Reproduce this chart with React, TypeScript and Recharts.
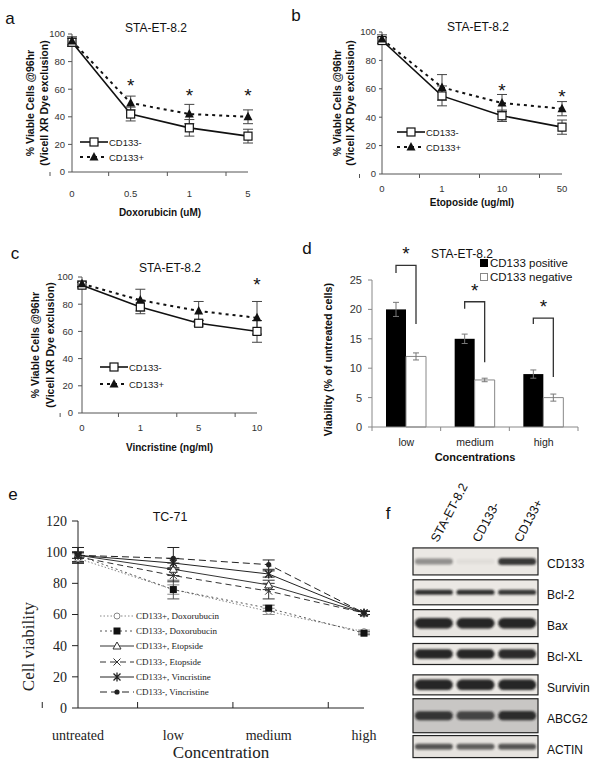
import React from 'react';
import { LineChart, Line, BarChart, Bar, ScatterChart, Scatter, XAxis, YAxis, ErrorBar, Legend } from 'recharts';

const SANS = '"Liberation Sans", Arial, Helvetica, sans-serif';
const SERIF = '"Liberation Serif", "Times New Roman", serif';
const AX = '#555';

// a-c: STA-ET-8.2, % viable cells @96hr
const staSeries = ['CD133-', 'CD133+'];

const doxDoses = ['0', '0.5', '1', '5'];
const doxNeg = [94, 42, 32, 26];
const doxNegErr = [3, 5, 6, 5];
const doxPos = [95, 50, 42, 40];
const doxPosErr = [3, 5, 7, 5];
const doxStars = [null, 65, 58, 58];

const etoDoses = ['0', '1', '10', '50'];
const etoNeg = [94, 55, 41, 33];
const etoNegErr = [2, 7, 4, 5];
const etoPos = [95, 61, 50, 46];
const etoPosErr = [3, 9, 6, 5];
const etoStars = [null, null, 61, 57];

const vinDoses = ['0', '1', '5', '10'];
const vinNeg = [94, 78, 66, 60];
const vinNegErr = [2, 5, 2, 8];
const vinPos = [95, 83, 75, 70];
const vinPosErr = [2, 8, 7, 12];
const vinStars = [null, null, null, 97];

// d: viability (% of untreated cells)
const dLevels = ['low', 'medium', 'high'];
const dSeries = ['CD133 positive', 'CD133 negative'];
const dPos = [20, 15, 9];
const dPosErr = [1.2, 0.8, 0.7];
const dNeg = [12, 8, 5];
const dNegErr = [0.6, 0.3, 0.6];
const dBracketTop = [27.5, 21.3, 18.5];
const dBracketLeft = [26.2, 20.1, 17.5];
const dBracketRight = [17.5, 11, 8.5];

// e: TC-71
const eConc = ['untreated', 'low', 'medium', 'high'];
const eNames = ['CD133+, Doxorubucin', 'CD133-, Doxorubucin', 'CD133+, Etopside', 'CD133-, Etopside', 'CD133+, Vincristine', 'CD133-, Vincristine'];
const eDoxPos = [96, 76, 62, 49];
const eDoxPosErr = [3, 3, 2, 1];
const eDoxNeg = [98, 76, 64, 48];
const eDoxNegErr = [2, 6, 2, 1];
const eEtoPos = [98, 89, 79, 61];
const eEtoPosErr = [2, 4, 3, 1];
const eEtoNeg = [97, 85, 75, 61];
const eEtoNegErr = [3, 4, 5, 1];
const eVinPos = [98, 93, 86, 61];
const eVinPosErr = [5, 3, 2, 1];
const eVinNeg = [98, 96, 92, 61];
const eVinNegErr = [5, 7, 3, 1];
const eVals = [eDoxPos, eDoxNeg, eEtoPos, eEtoNeg, eVinPos, eVinNeg];
const eErrs = [eDoxPosErr, eDoxNegErr, eEtoPosErr, eEtoNegErr, eVinPosErr, eVinNegErr];
const eStyle = [
  { color: '#888', dash: '1.5 2', mark: 'circle' },
  { color: '#555', dash: '2 3', mark: 'square' },
  { color: '#333', dash: undefined, mark: 'triangle' },
  { color: '#333', dash: '6 4', mark: 'cross' },
  { color: '#222', dash: undefined, mark: 'star' },
  { color: '#222', dash: '7 4', mark: 'dot' },
];

// f: western blot
const blotLanes = ['STA-ET-8.2', 'CD133-', 'CD133+'];
const blotProteins = ['CD133', 'Bcl-2', 'Bax', 'Bcl-XL', 'Survivin', 'ABCG2', 'ACTIN'];
const cd133Band = [0.45, 0.05, 0.9];
const bcl2Band = [0.95, 0.95, 0.92];
const baxBand = [1, 1, 1];
const bclxlBand = [1, 1, 0.97];
const survivinBand = [1, 1, 1];
const abcg2Band = [0.9, 0.8, 0.95];
const actinBand = [0.75, 0.7, 0.75];
const blotIntensity = [cd133Band, bcl2Band, baxBand, bclxlBand, survivinBand, abcg2Band, actinBand];

const frameH = [27, 25, 27, 21, 20, 34, 22];
const bandH = [7, 5, 10, 9, 10, 9, 6];
const frameFill = ['#ebe8e4', '#ebe8e4', '#e9e6e2', '#ebe8e4', '#ebe8e4', '#c8c6c4', '#e6e3df'];

const Mark = ({ kind, cx, cy, color }: any) => {
  if (cx == null || cy == null || isNaN(cy)) return null;
  switch (kind) {
    case 'openSquare':
      return <rect x={cx - 4} y={cy - 4} width={8} height={8} fill="#fff" stroke={color} strokeWidth={1.2} />;
    case 'filledTri':
      return <path d={`M${cx} ${cy - 5}L${cx + 4.5} ${cy + 3.5}L${cx - 4.5} ${cy + 3.5}Z`} fill={color} />;
    case 'circle':
      return <circle cx={cx} cy={cy} r={3} fill="#fff" stroke={color} />;
    case 'square':
      return <rect x={cx - 3.5} y={cy - 3.5} width={7} height={7} fill="#111" />;
    case 'triangle':
      return <path d={`M${cx} ${cy - 4}L${cx + 4} ${cy + 3}L${cx - 4} ${cy + 3}Z`} fill="#fff" stroke={color} />;
    case 'cross':
      return <path d={`M${cx - 3.5} ${cy - 3.5}L${cx + 3.5} ${cy + 3.5}M${cx - 3.5} ${cy + 3.5}L${cx + 3.5} ${cy - 3.5}`} stroke={color} />;
    case 'star':
      return <path d={`M${cx - 3.5} ${cy - 3.5}L${cx + 3.5} ${cy + 3.5}M${cx - 3.5} ${cy + 3.5}L${cx + 3.5} ${cy - 3.5}M${cx} ${cy - 4.5}L${cx} ${cy + 4.5}`} stroke={color} strokeWidth={1.3} />;
    case 'dot':
      return <circle cx={cx} cy={cy} r={2.6} fill={color} />;
    default:
      return null;
  }
};

const StarDot = ({ cx, cy }: any) =>
  cy == null || isNaN(cy) ? null : (
    <text x={cx} y={cy + 10} textAnchor="middle" fontSize={19} fontFamily={SANS} fill="#111">*</text>
  );

// category ticks: label at band centre, tick marks on band edges
const bandTick = (o: any) => (p: any) => {
  const { x, y, payload, index } = p;
  const h = o.band / 2;
  const y2 = o.up ? y - o.len : y + o.len;
  return (
    <g>
      <line x1={x - h} x2={x - h} y1={y} y2={y2} stroke={o.axis} />
      {index === o.n - 1 && <line x1={x + h} x2={x + h} y1={y} y2={y2} stroke={o.axis} />}
      <text x={x} y={y + o.dy} textAnchor="middle" dominantBaseline="central" fontFamily={o.font} fontSize={o.size} fill={o.color}>
        {payload.value}
      </text>
    </g>
  );
};

const xTitle = (t: string, dy: number, o: any) => ({ viewBox }: any) => (
  <text x={viewBox.x + viewBox.width / 2} y={viewBox.y + dy} textAnchor="middle" dominantBaseline="central"
    fontFamily={o.font} fontSize={o.size} fontWeight={o.weight} fill={o.color || '#111'}>
    {t}
  </text>
);

const yTitle = (lines: string[], xs: number[], o: any) => ({ viewBox }: any) => {
  const cy = viewBox.y + viewBox.height / 2 + (o.shift || 0);
  return (
    <g>
      {lines.map((t, i) => {
        const x = viewBox.x + xs[i];
        return (
          <text key={i} x={x} y={cy} transform={`rotate(-90 ${x} ${cy})`} textAnchor="middle" dominantBaseline="central"
            fontFamily={o.font} fontSize={o.size} fontWeight={o.weight} fill={o.color || '#111'}>
            {t}
          </text>
        );
      })}
    </g>
  );
};

const legendBox = (left: number, top: number) => ({ left, top, width: 'auto', height: 'auto', right: 'auto', bottom: 'auto' });

const StaLegend = ({ rowH }: any) => (
  <div style={{ fontFamily: SANS, fontSize: 9.5, color: '#222' }}>
    {staSeries.map((s, i) => (
      <div key={s} style={{ display: 'flex', alignItems: 'center', height: rowH }}>
        <svg width={28} height={12}>
          <line x1={0} x2={28} y1={6} y2={6} stroke="#111" strokeWidth={i === 0 ? 1.6 : 2} strokeDasharray={i === 0 ? undefined : '3 4'} />
          <Mark kind={i === 0 ? 'openSquare' : 'filledTri'} cx={14} cy={6} color="#111" />
        </svg>
        <span style={{ marginLeft: 1 }}>{s}</span>
      </div>
    ))}
  </div>
);

function StaPanel(c: any) {
  const data = c.doses.map((d: string, i: number) => ({
    dose: d, neg: c.neg[i], negErr: c.negErr[i], pos: c.pos[i], posErr: c.posErr[i], star: c.stars[i],
  }));
  const [x0, x1, y0, y1] = c.plot;
  return (
    <div style={{ position: 'absolute', left: c.left, top: c.top }}>
      <LineChart width={c.width} height={c.height} data={data}
        margin={{ top: y0 - c.top, right: c.left + c.width - x1, bottom: 0, left: 0 }}>
        <XAxis dataKey="dose" height={c.top + c.height - y1} interval={0} tickLine={false} tickSize={0} tickMargin={0}
          axisLine={{ stroke: AX }}
          tick={bandTick({ n: 4, band: (x1 - x0) / 4, dy: c.tickDy, len: 4, font: SANS, size: 9.5, color: '#333', axis: AX })}
          label={xTitle(c.xTitle, c.xTitleDy, { font: SANS, size: 10, weight: 'bold' })} />
        <YAxis width={x0 - c.left} domain={[0, 100]} ticks={[0, 20, 40, 60, 80, 100]} tickSize={c.yTick[0]} tickMargin={c.yTick[1]}
          axisLine={{ stroke: AX }} tickLine={{ stroke: AX }} tick={{ fontSize: 9.5, fill: '#333', fontFamily: SANS }}
          label={yTitle(['% Viable Cells @96hr', '(Vicell XR Dye exclusion)'], c.yTitleXs, { font: SANS, size: 10.5, weight: 'bold' })} />
        <Line dataKey="neg" name={staSeries[0]} stroke="#111" strokeWidth={1.6} dot={<Mark kind="openSquare" color="#111" />} isAnimationActive={false}>
          <ErrorBar dataKey="negErr" width={5} stroke="#444" strokeWidth={1} />
        </Line>
        <Line dataKey="pos" name={staSeries[1]} stroke="#111" strokeWidth={2} strokeDasharray="3 4" dot={<Mark kind="filledTri" color="#111" />} isAnimationActive={false}>
          <ErrorBar dataKey="posErr" width={5} stroke="#444" strokeWidth={1} />
        </Line>
        <Line dataKey="star" stroke="none" dot={<StarDot />} legendType="none" isAnimationActive={false} />
        <Legend layout="vertical" verticalAlign="middle" align="center" wrapperStyle={legendBox(c.legend[0], c.legend[1])}
          content={() => <StaLegend rowH={c.legend[2]} />} />
      </LineChart>
    </div>
  );
}

const BracketBar = (p: any) => {
  const { x, y, width, height, payload } = p;
  const base = y + height;
  const k = height / payload.pos;
  const at = (v: number) => base - v * k;
  const xl = x + width / 2;
  const xr = x + width * 1.5;
  const top = at(payload.bTop);
  return (
    <g>
      <rect x={x} y={y} width={width} height={height} fill="#000" />
      <polyline points={`${xl},${at(payload.bLeft)} ${xl},${top} ${xr},${top} ${xr},${at(payload.bRight)}`}
        fill="none" stroke="#333" strokeWidth={1.3} />
      <text x={(xl + xr) / 2} y={top - 5} textAnchor="middle" fontSize={19} fontFamily={SANS} fill="#111">*</text>
    </g>
  );
};

const DLegend = () => (
  <div style={{ fontFamily: SANS, fontSize: 11.5, color: '#111' }}>
    {dSeries.map((s, i) => (
      <div key={s} style={{ display: 'flex', alignItems: 'center', height: 14 }}>
        <span style={{ display: 'inline-block', width: 6, height: 6, background: i === 0 ? '#000' : '#fff',
          border: i === 0 ? '1px solid #000' : '1px solid #888', marginRight: 2 }} />
        <span>{s}</span>
      </div>
    ))}
  </div>
);

function PanelD() {
  const data = dLevels.map((l, i) => ({
    level: l, pos: dPos[i], posErr: dPosErr[i], neg: dNeg[i], negErr: dNegErr[i],
    bTop: dBracketTop[i], bLeft: dBracketLeft[i], bRight: dBracketRight[i],
  }));
  const AXD = '#888';
  return (
    <div style={{ position: 'absolute', left: 300, top: 240 }}>
      <BarChart width={290} height={225} data={data} margin={{ top: 40, right: 12, bottom: 0, left: 0 }} barSize={20} barGap={0}>
        <XAxis dataKey="level" height={38} interval={0} tickLine={false} tickSize={0} tickMargin={0} axisLine={{ stroke: AXD }}
          tick={bandTick({ n: 3, band: 206 / 3, dy: 15, len: 4, font: SANS, size: 10.5, color: '#222', axis: AXD })}
          label={xTitle('Concentrations', 30, { font: SANS, size: 11, weight: 'bold' })} />
        <YAxis width={72} domain={[0, 25]} ticks={[0, 5, 10, 15, 20, 25]} tickSize={4} tickMargin={6}
          axisLine={{ stroke: AXD }} tickLine={{ stroke: AXD }} tick={{ fontSize: 11, fill: '#333', fontFamily: SANS }}
          label={yTitle(['Viability (% of untreated cells)'], [28], { font: SANS, size: 10.8, weight: 'bold', shift: 6 })} />
        <Bar dataKey="pos" name={dSeries[0]} fill="#000" shape={<BracketBar />} isAnimationActive={false}>
          <ErrorBar dataKey="posErr" width={3} stroke="#777" strokeWidth={1} />
        </Bar>
        <Bar dataKey="neg" name={dSeries[1]} fill="#fff" stroke="#888" strokeWidth={1} isAnimationActive={false}>
          <ErrorBar dataKey="negErr" width={3} stroke="#777" strokeWidth={1} />
        </Bar>
        <Legend layout="vertical" verticalAlign="middle" align="center" wrapperStyle={legendBox(180, 16)} content={() => <DLegend />} />
      </BarChart>
    </div>
  );
}

const ELegend = () => (
  <div style={{ fontFamily: SERIF, fontSize: 9, color: '#222' }}>
    {eNames.map((n, k) => (
      <div key={n} style={{ display: 'flex', alignItems: 'center', height: 15.2 }}>
        <svg width={34} height={10}>
          <line x1={0} x2={34} y1={5} y2={5} stroke={eStyle[k].color} strokeDasharray={eStyle[k].dash} />
          <Mark kind={eStyle[k].mark} cx={17} cy={5} color={eStyle[k].color} />
        </svg>
        <span style={{ marginLeft: 2 }}>{n}</span>
      </div>
    ))}
  </div>
);

function PanelE() {
  const data = eConc.map((c, i) => {
    const row: any = { c };
    eVals.forEach((v, k) => {
      row['s' + k] = v[i];
      row['e' + k] = eErrs[k][i];
    });
    return row;
  });
  return (
    <div style={{ position: 'absolute', left: 0, top: 480 }}>
      <LineChart width={380} height={280} data={data} margin={{ top: 41, right: 16, bottom: 0, left: 0 }}>
        <XAxis dataKey="c" height={52} interval={0} tickLine={false} tickSize={0} tickMargin={0} axisLine={{ stroke: '#222' }}
          tick={bandTick({ n: 4, band: 71.5, dy: 27.5, len: 6, up: true, font: SERIF, size: 14, color: '#222', axis: '#222' })}
          label={xTitle('Concentration', 44, { font: SERIF, size: 17, color: '#222' })} />
        <YAxis width={78} domain={[0, 120]} ticks={[0, 20, 40, 60, 80, 100, 120]} tickSize={6} tickMargin={5}
          axisLine={{ stroke: '#222' }} tickLine={{ stroke: '#222' }} tick={{ fontSize: 14, fill: '#222', fontFamily: SERIF }}
          label={yTitle(['Cell viability'], [28], { font: SERIF, size: 17, shift: 32, color: '#222' })} />
        {eStyle.map((s, k) => (
          <Line key={k} dataKey={'s' + k} name={eNames[k]} stroke={s.color} strokeWidth={1} strokeDasharray={s.dash}
            dot={<Mark kind={s.mark} color={s.color} />} isAnimationActive={false}>
            <ErrorBar dataKey={'e' + k} width={6} stroke={s.color} strokeWidth={1} />
          </Line>
        ))}
        <Legend layout="vertical" verticalAlign="middle" align="center" wrapperStyle={legendBox(100, 128.4)} content={() => <ELegend />} />
      </LineChart>
    </div>
  );
}

const BlotFrame = ({ cx, cy, payload }: any) => {
  const h = frameH[payload.row];
  return <rect x={cx - 62.5} y={cy - h / 2} width={125} height={h} fill={frameFill[payload.row]} stroke="#222" strokeWidth={1.2} />;
};

const BlotBand = ({ cx, cy, payload }: any) => {
  const h = bandH[payload.row] * (0.7 + 0.35 * payload.v);
  const id = `blur-${payload.row}-${payload.lane}`;
  return (
    <g>
      <defs>
        <filter id={id} x="-20%" y="-150%" width="140%" height="400%">
          <feGaussianBlur stdDeviation={1.3} />
        </filter>
      </defs>
      <rect x={cx - 19} y={cy - h / 2} width={38} height={h} rx={h / 2} fill="#1a1a1a" opacity={payload.v * 0.95} filter={`url(#${id})`} />
    </g>
  );
};

const LaneTick = ({ x, y, payload }: any) => {
  const tx = x + 4;
  const ty = y - 3;
  return (
    <text x={tx} y={ty} transform={`rotate(-62 ${tx} ${ty})`} textAnchor="start" fontFamily={SANS} fontSize={12.5} fill="#111">
      {blotLanes[payload.value - 1]}
    </text>
  );
};

const RowTick = ({ x, y, payload }: any) => (
  <text x={x} y={y + 3} textAnchor="start" dominantBaseline="central" fontFamily={SANS} fontSize={12} fill="#111">
    {blotProteins[payload.value]}
  </text>
);

function PanelF() {
  const frames = blotProteins.map((p, i) => ({ lane: 2, row: i }));
  const bands = blotProteins.flatMap((p, i) => blotLanes.map((l, j) => ({ lane: j + 1, row: i, v: blotIntensity[i][j] })));
  return (
    <div style={{ position: 'absolute', left: 400, top: 470 }}>
      <ScatterChart width={200} height={305} margin={{ top: 0, right: 0, bottom: 13, left: 13 }}>
        <XAxis type="number" dataKey="lane" orientation="top" domain={[0.5, 3.5]} ticks={[1, 2, 3]} height={76}
          axisLine={false} tickLine={false} tickSize={0} tickMargin={0} tick={<LaneTick />} interval={0} />
        <YAxis type="number" dataKey="row" orientation="right" domain={[-0.5, 6.5]} reversed ticks={[0, 1, 2, 3, 4, 5, 6]} width={62}
          axisLine={false} tickLine={false} tickSize={0} tickMargin={9} tick={<RowTick />} interval={0} />
        <Scatter data={frames} shape={<BlotFrame />} isAnimationActive={false} />
        <Scatter data={bands} shape={<BlotBand />} isAnimationActive={false} />
      </ScatterChart>
    </div>
  );
}

const Txt = ({ x, y, t, size, font = SANS, weight }: any) => (
  <div style={{ position: 'absolute', left: x, top: y, transform: 'translate(-50%, -50%)', fontSize: size, fontFamily: font,
    fontWeight: weight, whiteSpace: 'nowrap', lineHeight: 1, color: '#111' }}>
    {t}
  </div>
);

export default function App() {
  return (
    <div style={{ position: 'absolute', left: 0, top: 0, width: 600, height: 775, background: '#fff', fontFamily: SANS, overflow: 'hidden' }}>
      <StaPanel left={0} top={0} width={260} height={225} plot={[72, 248, 34, 172]}
        doses={doxDoses} neg={doxNeg} negErr={doxNegErr} pos={doxPos} posErr={doxPosErr} stars={doxStars}
        xTitle="Doxorubicin (uM)" tickDy={21} xTitleDy={40} yTitleXs={[30, 44]} yTick={[4, 3]} legend={[80, 134.5, 15]} />
      <StaPanel left={300} top={0} width={275} height={225} plot={[382, 562, 32, 174]}
        doses={etoDoses} neg={etoNeg} negErr={etoNegErr} pos={etoPos} posErr={etoPosErr} stars={etoStars}
        xTitle="Etoposide (ug/ml)" tickDy={14} xTitleDy={28} yTitleXs={[37, 50]} yTick={[3, 3]} legend={[97, 124.5, 15]} />
      <StaPanel left={0} top={240} width={270} height={215} plot={[82, 257, 277, 413]}
        doses={vinDoses} neg={vinNeg} negErr={vinNegErr} pos={vinPos} posErr={vinPosErr} stars={vinStars}
        xTitle="Vincristine (ng/ml)" tickDy={14} xTitleDy={34} yTitleXs={[35, 50]} yTick={[4, 5]} legend={[100, 118.5, 17]} />
      <PanelD />
      <PanelE />
      <PanelF />

      <Txt x={10} y={18} t="a" size={17} />
      <Txt x={296} y={15} t="b" size={17} />
      <Txt x={15} y={253} t="c" size={17} />
      <Txt x={307} y={248} t="d" size={17} />
      <Txt x={13} y={494} t="e" size={17} />
      <Txt x={388} y={513} t="f" size={17} />

      <Txt x={156} y={28} t="STA-ET-8.2" size={12} />
      <Txt x={478} y={27} t="STA-ET-8.2" size={12} />
      <Txt x={170} y={268} t="STA-ET-8.2" size={12} />
      <Txt x={462} y={254} t="STA-ET-8.2" size={12} />
      <Txt x={170} y={517} t="TC-71" size={12.5} />
    </div>
  );
}
